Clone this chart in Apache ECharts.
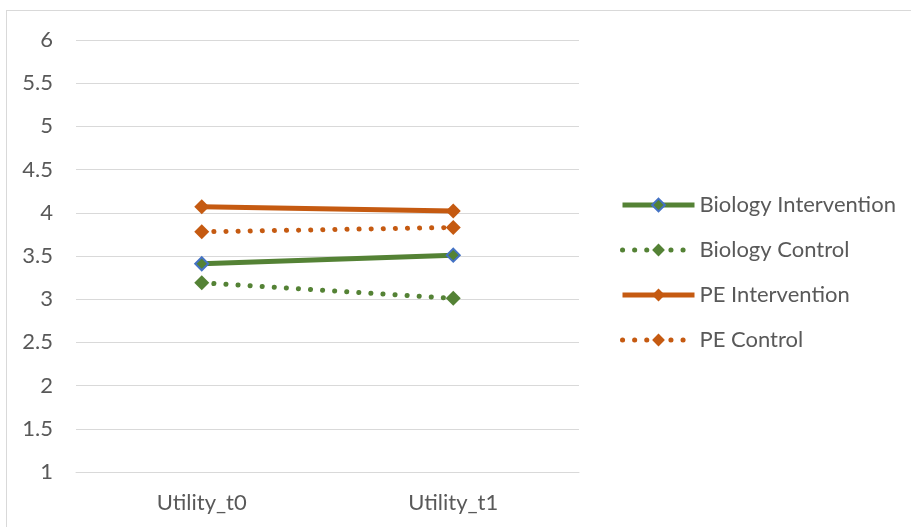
<!DOCTYPE html>
<html>
<head>
<meta charset="utf-8">
<script src="https://cdn.jsdelivr.net/npm/echarts@6/dist/echarts.min.js"></script>
<style>
  html, body { margin: 0; padding: 0; background: #fff; }
  #frame { position: absolute; left: 6px; top: 10px; width: 910px; height: 520px; border: 1px solid #d9d9d9; box-sizing: border-box; }
  #chart { position: absolute; left: 0; top: 0; width: 911px; height: 527px; }
</style>
</head>
<body>
<div id="frame"></div>
<div id="chart"></div>
<script>
// Time points and group means
const categories = ['Utility_t0', 'Utility_t1'];
const bioIntervention = [3.41, 3.51];
const bioControl = [3.19, 3.01];
const peIntervention = [4.07, 4.02];
const peControl = [3.78, 3.83];

const GREEN = '#548235';
const ORANGE = '#C55A11';
const TEXT = '#595959';
const FONT = 'Lato, "Open Sans", sans-serif';

const dotted = { type: [0.1, 12], cap: 'round' };

const chart = echarts.init(document.getElementById('chart'), null, { renderer: 'canvas' });
chart.setOption({
  animation: false,
  backgroundColor: 'transparent',
  grid: { left: 76, right: 332, top: 40, bottom: 55, containLabel: false },
  legend: {
    orient: 'vertical',
    left: 615,
    top: 189,
    itemWidth: 72,
    itemHeight: 16,
    itemGap: 23,
    lineStyle: { width: 5 },
    textStyle: { color: TEXT, fontSize: 22, fontFamily: FONT },
    data: ['Biology Intervention', 'Biology Control', 'PE Intervention', 'PE Control']
  },
  xAxis: {
    type: 'category',
    data: categories,
    boundaryGap: true,
    axisLine: { show: true, lineStyle: { color: '#d9d9d9', width: 1 } },
    axisTick: { show: false },
    axisLabel: { color: TEXT, fontSize: 22, fontFamily: FONT, margin: 20 }
  },
  yAxis: {
    type: 'value',
    min: 1,
    max: 6,
    interval: 0.5,
    axisLine: { show: false },
    axisTick: { show: false },
    splitLine: { lineStyle: { color: '#d9d9d9', width: 1 } },
    axisLabel: { color: TEXT, fontSize: 22, fontFamily: FONT, margin: 23 }
  },
  series: [
    {
      name: 'Biology Intervention', type: 'line', data: bioIntervention,
      symbol: 'diamond', symbolSize: 13,
      lineStyle: { color: GREEN, width: 5 },
      itemStyle: { color: GREEN, borderColor: '#4472C4', borderWidth: 2 },
      z: 3
    },
    {
      name: 'Biology Control', type: 'line', data: bioControl,
      symbol: 'diamond', symbolSize: 15,
      lineStyle: Object.assign({ color: GREEN, width: 5 }, dotted),
      itemStyle: { color: GREEN, borderWidth: 0 },
      z: 2
    },
    {
      name: 'PE Intervention', type: 'line', data: peIntervention,
      symbol: 'diamond', symbolSize: 15,
      lineStyle: { color: ORANGE, width: 5 },
      itemStyle: { color: ORANGE, borderWidth: 0 },
      z: 3
    },
    {
      name: 'PE Control', type: 'line', data: peControl,
      symbol: 'diamond', symbolSize: 15,
      lineStyle: Object.assign({ color: ORANGE, width: 5 }, dotted),
      itemStyle: { color: ORANGE, borderWidth: 0 },
      z: 2
    }
  ]
});
</script>
</body>
</html>
